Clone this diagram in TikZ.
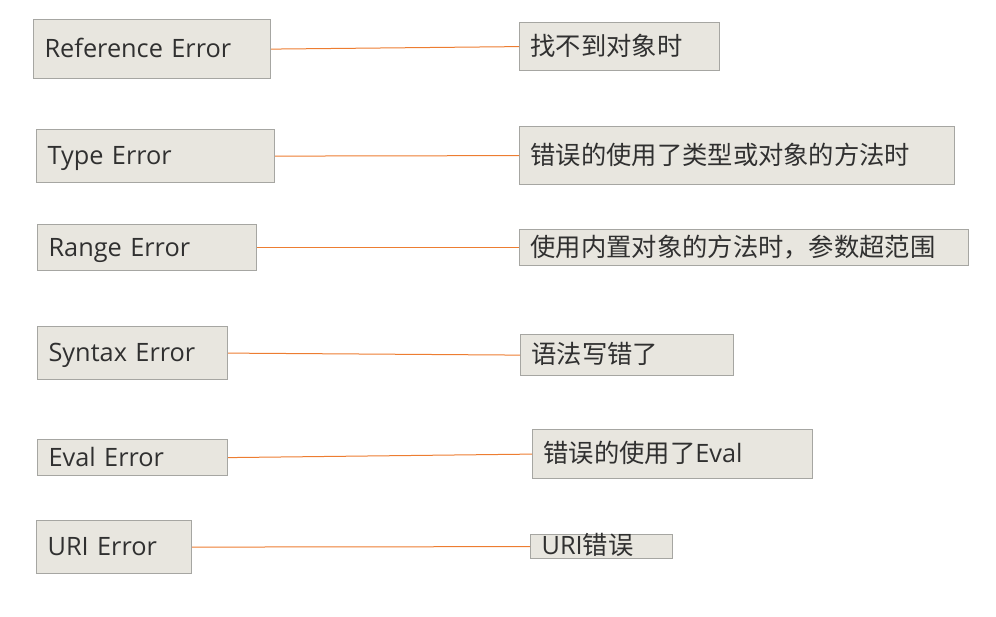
\documentclass[tikz,border=0pt]{standalone}
\usepackage{fontspec}
\setmainfont{Open Sans}
\newfontfamily\cjk{Noto Sans CJK SC}
\definecolor{cajafondo}{HTML}{E8E6DF}
\definecolor{cajaborde}{HTML}{A6A6A2}
\definecolor{textogris}{HTML}{303030}
\definecolor{lineanaranja}{HTML}{ED7D31}

\begin{document}
\begin{tikzpicture}[
		x=1pt, y=-1pt,
		% Estilo comun de las cajas
		caja/.style = {draw=cajaborde, fill=cajafondo, line width=1.2pt, rectangle, anchor=north west, align=left, inner xsep=11pt, inner ysep=0pt, text height=21pt, text depth=4pt, text=textogris, font=\fontsize{25.3}{30}\selectfont},
		enlace/.style = {draw=lineanaranja, line width=1pt}
		]
		
		\useasboundingbox (0,0) rectangle (996,616);
		
		% --- TIPOS DE ERROR (COLUMNA IZQUIERDA) ---
		\node [caja, minimum width=237pt, minimum height=59pt, text width=215pt] (ref) at (33,19) {Reference Error};
		\node [caja, minimum width=238pt, minimum height=53pt, text width=216pt] (type) at (36,129) {Type Error};
		\node [caja, minimum width=219pt, minimum height=46pt, text width=197pt] (range) at (37,224) {Range Error};
		\node [caja, minimum width=190pt, minimum height=53pt, text width=168pt] (syntax) at (37,326) {Syntax Error};
		\node [caja, minimum width=190pt, minimum height=36pt, text width=168pt] (eval) at (37,439) {Eval Error};
		\node [caja, minimum width=155pt, minimum height=53pt, text width=133pt] (uri) at (36,520) {URI Error};
		
		% --- DESCRIPCIONES (COLUMNA DERECHA) ---
		\node [caja, minimum width=200pt, minimum height=48pt, text width=178pt] (ref_txt) at (519,22) {\cjk 找不到对象时};
		\node [caja, minimum width=435pt, minimum height=58pt, text width=413pt] (type_txt) at (519,126) {\cjk 错误的使用了类型或对象的方法时};
		\node [caja, minimum width=449pt, minimum height=36pt, text width=427pt] (range_txt) at (519,229) {\cjk 使用内置对象的方法时，参数超范围};
		\node [caja, minimum width=213pt, minimum height=41pt, text width=191pt] (syntax_txt) at (520,334) {\cjk 语法写错了};
		\node [caja, minimum width=280pt, minimum height=49pt, text width=258pt] (eval_txt) at (532,429) {{\cjk 错误的使用了}Eval};
		\node [caja, minimum width=142pt, minimum height=24pt, text width=120pt, text depth=4pt, text height=19pt] (uri_txt) at (530,534) {URI{\cjk 错误}};
		
		% --- CONEXIONES ---
		\draw [enlace] (ref.east) -- (ref_txt.west);
		\draw [enlace] (type.east) -- (type_txt.west);
		\draw [enlace] (range.east) -- (range_txt.west);
		\draw [enlace] (syntax.east) -- (syntax_txt.west);
		\draw [enlace] (eval.east) -- (eval_txt.west);
		\draw [enlace] (uri.east) -- (uri_txt.west);
		
	\end{tikzpicture}
\end{document}
